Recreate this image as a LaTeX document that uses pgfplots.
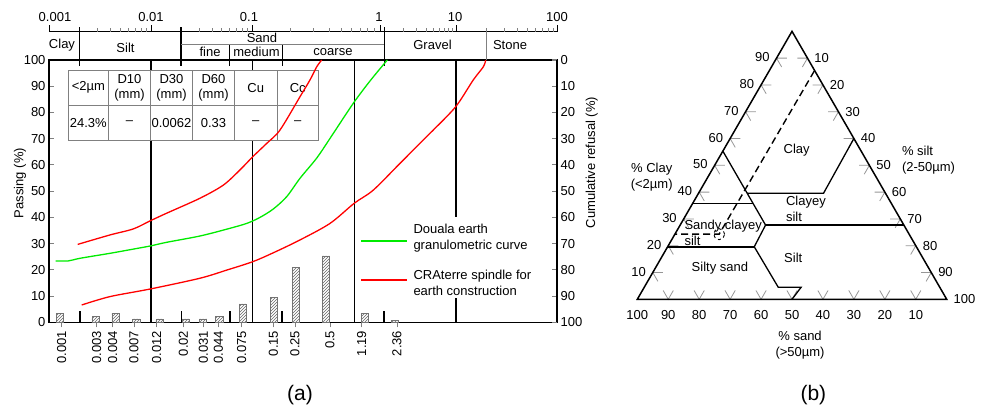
\documentclass[border=0pt]{standalone}
\usepackage{pgfplots}
\pgfplotsset{compat=1.18}
\usepackage{pgfplotstable}
\usepackage{fontspec}
\setmainfont{Liberation Sans}
\usetikzlibrary{patterns}
\definecolor{cgreen}{RGB}{0,235,0}
\definecolor{cred}{RGB}{255,0,0}
\definecolor{tgray}{RGB}{128,128,128}
\definecolor{chev}{RGB}{150,150,150}

% x = position on the (distorted) particle-size scale, y = passing %
\pgfplotstableread{
x y
55.7 23.4
68.3 23.4
80 24.4
110 26.3
133.3 27.9
150.3 29.1
166.7 30.5
200 32.9
226.7 35.5
246.7 37.7
260 40.0
273.3 43.2
286.7 47.9
300 54.9
316.7 62.6
330 70.1
353.3 83.5
370 92
387.3 100
}\douala

\pgfplotstableread{
x y
77.7 29.7
110 33.3
133.3 35.6
150.3 38.7
166.7 41.6
200 47.3
223.3 52.3
240 58.1
252.7 63.1
266.7 68.2
280 73.3
300 86.0
310 92.4
316.7 97.4
321.7 100
}\craup

\pgfplotstableread{
x y
81.7 6.6
110 9.8
150.3 12.7
200 16.8
226.7 19.9
252.7 23.1
273.3 26.5
300 31.4
330 37.7
354.3 45.4
373.3 50.4
400 60.6
423.3 69.5
433.3 73.3
455.7 82.2
473.3 92.4
483.3 97.4
485.7 100
}\cralow

\pgfplotstableread{
x y
60 3.3
95.5 2.1
115.5 3.4
136.3 1.3
159.5 1.3
185.8 1.3
203 1.3
219.2 2.1
243 7.0
273.7 9.5
295.8 20.8
325.8 25.3
364.7 3.4
394.7 0.6
}\bars

\pgfplotsset{table/tern/.style={x expr={\thisrow{silt}+0.5*\thisrow{clay}}, y expr={0.8660254*\thisrow{clay}}}}

\begin{document}
\begin{tikzpicture}[font=\fontsize{13}{15.6}\selectfont]
\useasboundingbox (0,0) rectangle (984pt,411pt);
%================ panel (a) =================
\begin{axis}[
  at={(49pt,88.7pt)}, anchor=south west,
  scale only axis, width=508pt, height=262.3pt,
  xmin=49, xmax=557, ymin=0, ymax=100,
  clip=false,
  axis line style={line width=1.3pt},
  tick pos=left,
  tick align=outside,
  major tick length=5pt,
  ytick={0,10,...,100},
  ytick style={xshift=5pt, line width=1.1pt},
  xtick style={line width=0.7pt},
  yticklabel style={xshift=5pt},
  xtick={61.7,96.7,112.7,134,156.7,183.3,203.3,218.3,241.7,273.3,295,330,361.7,397},
  xticklabels={0.001,0.003,0.004,0.007,0.012,0.02,0.031,0.044,0.075,0.15,0.25,0.5,1.19,2.36},
  xticklabel style={rotate=90, anchor=east},
  /pgf/number format/assume math mode=true,
]
% full-height vertical lines
\pgfplotsinvokeforeach{151,252.5,354.5,456}{
  \draw[line width=1.3pt] (axis cs:#1,0) -- (axis cs:#1,100);
}
% short divider marks at the bottom
\pgfplotsinvokeforeach{80,181.7,230,282,384}{
  \draw[line width=1.2pt] (axis cs:#1,0) -- (axis cs:#1,4.2);
}
% top particle size scale
\draw[line width=0.9pt] (axis cs:49,110.8) -- (axis cs:557,110.8);
\pgfplotsinvokeforeach{49,151,252.5,380,456,557}{
  \draw[line width=0.9pt] (axis cs:#1,110.8) -- (axis cs:#1,113.3);
}
\pgfplotsinvokeforeach{79.7,97.7,110.4,120.3,128.4,135.2,141.1,146.3,
  181.4,199.2,211.8,221.6,229.6,236.3,242.2,247.4,
  290.5,313.1,329.1,341.5,351.6,360.2,367.6,374.1,
  402.9,416.3,425.8,433.1,439.1,444.2,448.6,452.5,
  486.7,504.7,517.4,527.3,535.4,542.2,548.1,553.3}{
  \draw[line width=0.6pt, tgray] (axis cs:#1,110.8) -- (axis cs:#1,112.3);
}
\node at (axis cs:55,116.5) {0.001};
\node at (axis cs:151,116.5) {0.01};
\node at (axis cs:249,116.5) {0.1};
\node at (axis cs:379,116.5) {1};
\node at (axis cs:455,116.5) {10};
\node at (axis cs:557,116.5) {100};
% soil class band
\pgfplotsinvokeforeach{79.3,181,384.4}{
  \draw[line width=1.5pt] (axis cs:#1,112.4) -- (axis cs:#1,97.8);
}
\draw[line width=1pt] (axis cs:229.5,106) -- (axis cs:229.5,97.8);
\draw[line width=1pt] (axis cs:282.5,106) -- (axis cs:282.5,97.8);
\draw[line width=0.9pt, tgray] (axis cs:486.5,110.8) -- (axis cs:486.5,100);
\draw[line width=0.7pt, tgray] (axis cs:181,106) -- (axis cs:384.4,106);
\node at (axis cs:62,105.7) {Clay};
\node at (axis cs:125.5,104.5) {Silt};
\node at (axis cs:262,108.3) {Sand};
\node at (axis cs:210,103.2) {fine};
\node at (axis cs:256.5,103.2) {medium};
\node at (axis cs:333,103.2) {coarse};
\node at (axis cs:432.5,105.7) {Gravel};
\node at (axis cs:510,105.7) {Stone};
% bars
\addplot[ybar, bar width=7.3, draw=black!55, line width=0.6pt, fill=white,
  postaction={pattern=north east lines, pattern color=black!60}] table {\bars};
% table
\filldraw[fill=white, draw=tgray, line width=0.8pt] (axis cs:68,69.2) rectangle (axis cs:318.3,96.2);
\draw[tgray, line width=0.8pt] (axis cs:68,82.7) -- (axis cs:318.3,82.7);
\pgfplotsinvokeforeach{108.7,150.3,192.7,234.3,277.3}{
  \draw[tgray, line width=0.8pt] (axis cs:#1,69.2) -- (axis cs:#1,96.2);
}
\node at (axis cs:88.35,89.45) {<2µm};
\node[align=center] at (axis cs:129.5,89.45) {D10\\(mm)};
\node[align=center] at (axis cs:171.5,89.45) {D30\\(mm)};
\node[align=center] at (axis cs:213.5,89.45) {D60\\(mm)};
\node at (axis cs:255.8,89.45) {Cu};
\node at (axis cs:297.8,89.45) {Cc};
\node at (axis cs:88.35,75.95) {24.3\%};
\node at (axis cs:129.5,75.95) {--};
\node at (axis cs:171.5,75.95) {0.0062};
\node at (axis cs:213.5,75.95) {0.33};
\node at (axis cs:255.8,75.95) {--};
\node at (axis cs:297.8,75.95) {--};
% curves
\addplot[cred, line width=1.3pt, smooth] table {\craup};
\addplot[cred, line width=1.3pt, smooth] table {\cralow};
\addplot[cgreen, line width=1.3pt, smooth] table {\douala};
% legend
\fill[white] (axis cs:358,9.3) rectangle (axis cs:552,40.1);
\draw[cgreen, line width=1.3pt] (axis cs:361,31.0) -- (axis cs:407.3,31.0);
\node[anchor=west, align=left, inner sep=0pt] at (axis cs:413.3,32.0) {Douala earth\\granulometric curve};
\draw[cred, line width=1.3pt] (axis cs:361,16.1) -- (axis cs:407.3,16.1);
\node[anchor=west, align=left, inner sep=0pt] at (axis cs:413.3,15.0) {CRAterre spindle for\\earth construction};
% axis titles
\node[rotate=90] at (axis cs:20,53.1) {Passing (\%)};
\node[rotate=90] at (axis cs:591.7,60.9) {Cumulative refusal (\%)};
\node[font=\fontsize{21}{25}\selectfont] at (axis cs:300,-27.7) {(a)};
\end{axis}
% right-hand scale
\begin{axis}[
  at={(49pt,88.7pt)}, anchor=south west,
  scale only axis, width=508pt, height=262.3pt,
  xmin=49, xmax=557, ymin=0, ymax=100,
  y dir=reverse,
  axis x line=none, axis y line*=right,
  axis line style={line width=1.3pt},
  ytick={0,10,...,100},
  ytick style={line width=1.1pt},
  tick align=inside, major tick length=5pt,
  /pgf/number format/assume math mode=true,
]
\end{axis}
%================ panel (b) =================
\begin{axis}[
  at={(637.3pt,111.7pt)}, anchor=south west,
  x=3.094pt, y=3.094pt,
  xmin=0, xmax=100, ymin=0, ymax=86.6025,
  hide axis, clip=false,
]
% chevron ticks
\pgfplotsinvokeforeach{10,20,30,40,50,60,70,80,90}{
  \draw[chev, line width=0.8pt] (axis cs:{0.5*#1+3.3},{0.8660254*#1}) -- (axis cs:{0.5*#1},{0.8660254*#1}) -- (axis cs:{0.5*#1+1.65},{0.8660254*#1-2.858});
  \draw[chev, line width=0.8pt] (axis cs:{50+0.5*#1-3.3},{0.8660254*(100-#1)}) -- (axis cs:{50+0.5*#1},{0.8660254*(100-#1)}) -- (axis cs:{50+0.5*#1-1.65},{0.8660254*(100-#1)-2.858});
  \draw[chev, line width=0.8pt] (axis cs:{100-#1-1.65},2.858) -- (axis cs:{100-#1},0) -- (axis cs:{100-#1+1.65},2.858);
  \node[anchor=east, inner sep=0pt] at (axis cs:{0.5*#1-2.2},{0.8660254*#1+0.3}) {#1};
}
\pgfplotsinvokeforeach{10,20,30,40,50,60,70,80,90,100}{
  \node[anchor=west, inner sep=0pt] at (axis cs:{50+0.5*#1+2.2},{0.8660254*(100-#1)}) {#1};
  \node at (axis cs:{100-#1},-5.07) {#1};
}
% triangle
\addplot[black, line width=1.5pt, line join=miter] table[tern] {
clay silt
0 0
0 100
100 0
0 0
0 100
};
% class boundaries
\addplot[black, line width=1.3pt] table[tern] {
clay silt
55.3 0
27.7 27.6
19.6 28.0
4.5 43.3
4.5 50.7
0 50
};
\addplot[black, line width=1.3pt] table[tern] {
clay silt
60 40
39.6 40.4
39.6 15.7
};
\addplot[black, line width=1.3pt] table[tern] {
clay silt
35.8 0
35.8 19.5
};
\addplot[black, line width=1.3pt] table[tern] {
clay silt
27.7 27.6
27.7 72.3
};
\addplot[black, line width=1.3pt] table[tern] {
clay silt
19.5 0
19.5 28.0
};
% sample
\addplot[black, line width=1.4pt, dash pattern=on 7pt off 4pt] table[tern] {
clay silt
85.2 14.6
24.3 14.3
24.3 0
};
\addplot[only marks, mark=o, mark size=5.5pt, mark options={black, dashed, line width=0.9pt}] table[tern] {
clay silt
24.3 14.3
};
% class names and titles
\node at (axis cs:51.5,48.3) {Clay};
\node[anchor=west, align=left, inner sep=0pt] at (axis cs:48.0,29.2) {Clayey\\silt};
\node[anchor=west, align=left, inner sep=0pt] at (axis cs:15.2,21.5) {Sandy clayey\\silt};
\node at (axis cs:50.4,13.3) {Silt};
\node at (axis cs:26.7,10.2) {Silty sand};
\node[align=center] at (axis cs:4.65,39.4) {\% Clay\\(<2µm)};
\node[anchor=west, align=left, inner sep=0pt] at (axis cs:85.5,44.9) {\% silt\\(2-50µm)};
\node[align=center] at (axis cs:52.6,-14.9) {\% sand\\(>50µm)};
\node[font=\fontsize{21}{25}\selectfont] at (axis cs:56.9,-30.9) {(b)};
\end{axis}
\end{tikzpicture}
\end{document}
